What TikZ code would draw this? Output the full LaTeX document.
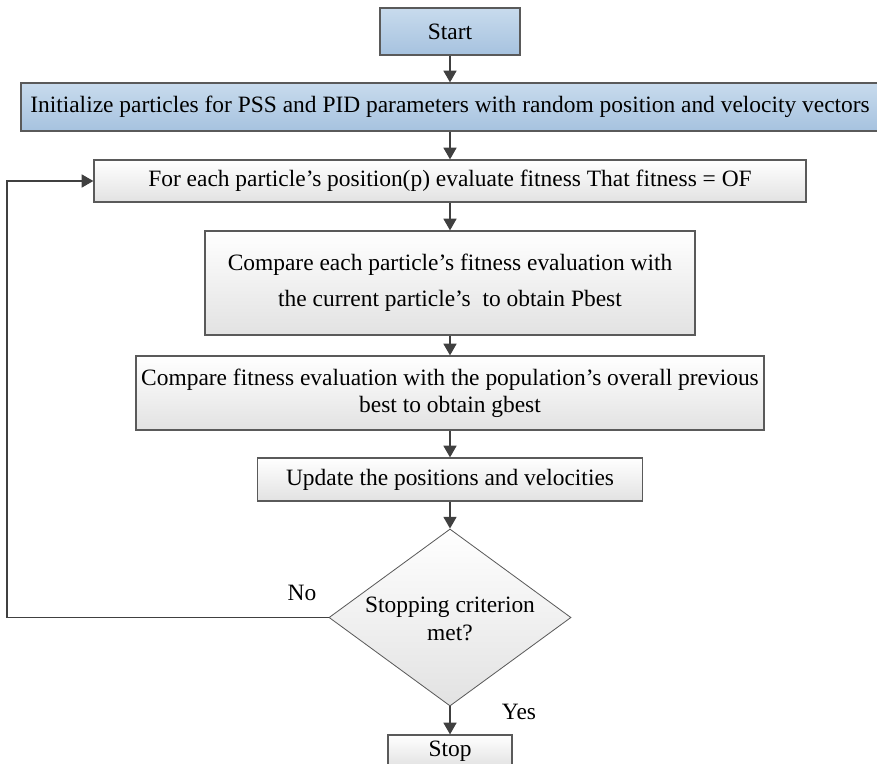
\documentclass[tikz,border=0pt]{standalone}
\usepackage{fontspec}
\setmainfont{Liberation Serif}
\usetikzlibrary{shapes.geometric,arrows.meta}
\definecolor{boxline}{RGB}{90,90,90}
\definecolor{arrowgray}{RGB}{64,64,64}
\definecolor{bluetop}{RGB}{200,219,237}
\definecolor{bluebot}{RGB}{166,194,223}
\definecolor{graybot}{RGB}{226,226,226}
\begin{document}
\begin{tikzpicture}[x=0.03cm, y=-0.03cm, >={Triangle[length=10pt,width=11pt]},
  every node/.style={font=\fontsize{20}{27}\selectfont},
  procbox/.style={draw=boxline, line width=1pt, top color=white, bottom color=graybot, inner sep=0pt, align=center},
  bluebox/.style={procbox, top color=bluetop, bottom color=bluebot},
  decision/.style={diamond, draw=boxline, line width=0.7pt, top color=white, bottom color=graybot, inner sep=0pt},
  flow/.style={->, draw=arrowgray, line width=1.6pt}]
  % 粒子群优化流程图
  \useasboundingbox (0,0) rectangle (877,764);

  \node[bluebox, minimum width=4.2cm, minimum height=1.41cm] (start) at (450,31.5) {Start};
  \node[bluebox, minimum width=25.74cm, minimum height=1.44cm] (init) at (450,107) {Initialize particles for PSS and PID parameters with random position and velocity vectors};
  \node[procbox, minimum width=21.36cm, minimum height=1.26cm] (each) at (450,181) {For each particle’s position(p) evaluate fitness That fitness = OF};
  \node[procbox, minimum width=14.7cm, minimum height=3.12cm, font=\fontsize{20}{31}\selectfont] (pbest) at (450,283) {Compare each particle’s fitness evaluation with\\the current particle’s\ \ to obtain Pbest};
  \node[procbox, minimum width=18.84cm, minimum height=2.22cm, font=\fontsize{20}{23}\selectfont] (gbest) at (450,393) {Compare fitness evaluation with the population’s overall previous\\best to obtain gbest};
  \node[procbox, minimum width=11.55cm, minimum height=1.29cm] (update) at (450,479.5) {Update the positions and velocities};
  \node[decision, minimum width=7.26cm, minimum height=5.31cm] (check) at (450,617.5) {};
  \node[align=center, font=\fontsize{20}{24}\selectfont] (checktext) at (450,619) {Stopping criterion\\met?};
  \node[procbox, minimum width=3.72cm, minimum height=0.96cm] (stop) at (450,751) {Stop};

  \node (no) at (302,593) {No};
  \node (yes) at (519,712) {Yes};
  \coordinate (loopcorner) at (7,617.5);

  \draw[flow] (start) -- (init);
  \draw[flow] (init) -- (each);
  \draw[flow] (each) -- (pbest);
  \draw[flow] (pbest) -- (gbest);
  \draw[flow] (gbest) -- (update);
  \draw[flow] (update) -- (check);
  \draw[flow] (check) -- (stop);
  \draw[flow] (check.west) -- (loopcorner) |- (each.west);
\end{tikzpicture}
\end{document}
